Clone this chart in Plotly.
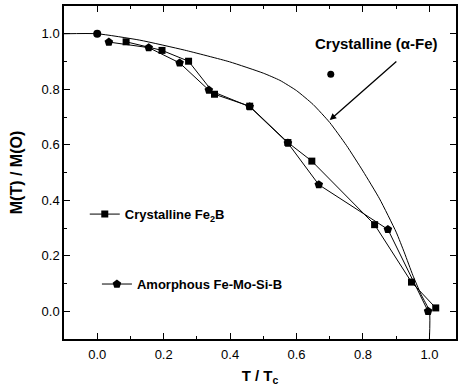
import plotly.graph_objects as go

# Crystalline alpha-Fe reference curve
fe_curve_x = [-0.1, 0.0, 0.128, 0.263, 0.398, 0.500, 0.550, 0.600, 0.650, 0.700, 0.750, 0.800, 0.850, 0.900, 0.925, 0.950, 0.975, 1.0, 1.0]
fe_curve_y = [1.0, 1.0, 0.977, 0.941, 0.899, 0.858, 0.832, 0.795, 0.745, 0.680, 0.598, 0.505, 0.405, 0.285, 0.210, 0.130, 0.060, 0.0, -0.1]
fe_point_x = [0.0]
fe_point_y = [1.0]
lone_x = [0.703]
lone_y = [0.854]

# Crystalline Fe2B (squares)
fe2b_x = [0.087, 0.195, 0.275, 0.353, 0.459, 0.574, 0.646, 0.835, 0.946, 1.019]
fe2b_y = [0.971, 0.940, 0.901, 0.782, 0.739, 0.608, 0.541, 0.312, 0.105, 0.012]

# Amorphous Fe-Mo-Si-B (pentagons)
amor_x = [0.035, 0.155, 0.248, 0.336, 0.459, 0.574, 0.667, 0.875, 0.996]
amor_y = [0.970, 0.950, 0.895, 0.797, 0.737, 0.606, 0.456, 0.295, 0.0]

FONT = "Liberation Sans"

fig = go.Figure()
fig.add_trace(go.Scatter(x=fe_curve_x, y=fe_curve_y, mode="lines",
                         line=dict(color="black", width=1, shape="spline", smoothing=0.5),
                         showlegend=False))
fig.add_trace(go.Scatter(x=fe_point_x, y=fe_point_y, mode="markers",
                         marker=dict(symbol="circle", size=8, color="black"), showlegend=False))
fig.add_trace(go.Scatter(x=lone_x, y=lone_y, mode="markers",
                         marker=dict(symbol="circle", size=7, color="black"), showlegend=False))
fig.add_trace(go.Scatter(x=fe2b_x, y=fe2b_y, mode="lines+markers",
                         name="<b>Crystalline Fe<sub>2</sub>B</b>",
                         line=dict(color="black", width=1),
                         marker=dict(symbol="square", size=7, color="black"),
                         legend="legend"))
fig.add_trace(go.Scatter(x=amor_x, y=amor_y, mode="lines+markers",
                         name="<b>Amorphous Fe-Mo-Si-B</b>",
                         line=dict(color="black", width=1),
                         marker=dict(symbol="pentagon", size=9, color="black"),
                         legend="legend2"))

axis_common = dict(
    ticks="inside", ticklen=6, tickwidth=1.3, tickcolor="black",
    showline=True, linecolor="black", linewidth=1.5, mirror="allticks",
    showgrid=False, zeroline=False, tickformat=".1f", automargin=False,
    tickfont=dict(size=13, family=FONT, color="black"),
    minor=dict(dtick=0.1, ticks="inside", ticklen=3, tickcolor="black", tickwidth=1.2, showgrid=False),
)

fig.update_layout(
    width=459, height=391,
    margin=dict(l=64, r=3, t=6, b=52),
    plot_bgcolor="white", paper_bgcolor="white",
    font=dict(family=FONT, color="black"),
    xaxis=dict(range=[-0.1, 1.08], dtick=0.2, tick0=0, ticklabelstandoff=3,
               title=dict(text="<b>T / T<sub>c</sub></b>", font=dict(size=15, family=FONT), standoff=9),
               **axis_common),
    yaxis=dict(range=[-0.1, 1.1], dtick=0.2, tick0=0,
               title=dict(text="<b>M(T) / M(O)</b>", font=dict(size=16, family=FONT), standoff=15),
               **axis_common),
    legend=dict(x=0.053, y=0.42, xanchor="left", yanchor="top", bgcolor="rgba(0,0,0,0)",
                font=dict(size=13, family=FONT), itemwidth=30),
    legend2=dict(x=0.084, y=0.21, xanchor="left", yanchor="top", bgcolor="rgba(0,0,0,0)",
                 font=dict(size=13, family=FONT), itemwidth=30),
    annotations=[
        dict(x=0.842, y=0.965, xref="x", yref="y", text="<b>Crystalline (α-Fe)</b>",
             showarrow=False, font=dict(size=15, family=FONT)),
        dict(x=0.70, y=0.689, xref="x", yref="y", ax=0.905, ay=0.905, axref="x", ayref="y",
             text="", showarrow=True, arrowhead=2, arrowsize=1, arrowwidth=1.3, arrowcolor="black"),
    ],
)

fig.write_html("out.html", config={"displayModeBar": False},
               post_script="document.body.style.margin='0px';")
